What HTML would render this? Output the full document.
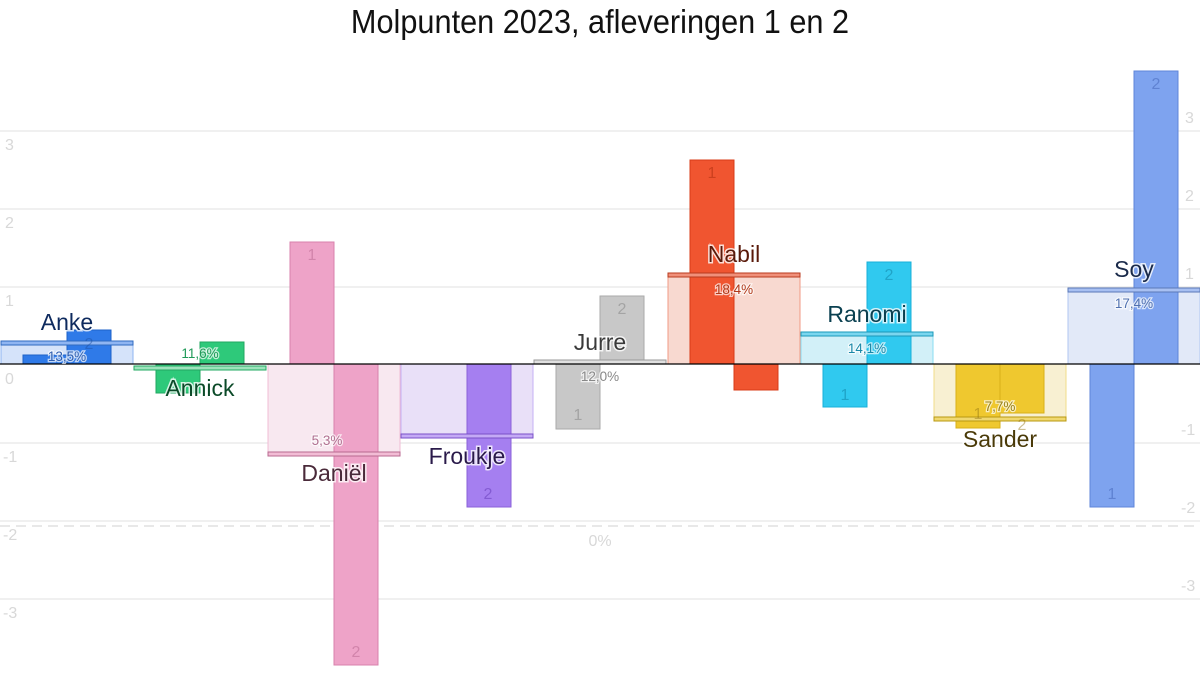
<!DOCTYPE html>
<html><head><meta charset="utf-8"><style>
body{margin:0;background:#fff}
svg{display:block}
text{font-family:"Liberation Sans",sans-serif}
.nm{font-size:23px;text-anchor:middle;stroke:#fff;stroke-width:3px;paint-order:stroke;stroke-opacity:.8}
.pc{font-size:13.5px;text-anchor:middle;stroke:#fff;stroke-width:2.5px;paint-order:stroke;stroke-opacity:.7}
.bn{font-size:16px;text-anchor:middle;fill-opacity:.45}
.ax{font-size:16px;fill:#d8d8d8}
</style></head><body>
<svg width="1200" height="700" viewBox="0 0 1200 700">
<text x="600" y="33" font-size="33" text-anchor="middle" fill="#111" transform="translate(600 0) scale(0.93 1) translate(-600 0)">Molpunten 2023, afleveringen 1 en 2</text>
<g stroke="#e2e2e2" stroke-width="1">
<line x1="0" x2="1200" y1="131" y2="131"/><line x1="0" x2="1200" y1="209" y2="209"/><line x1="0" x2="1200" y1="287" y2="287"/><line x1="0" x2="1200" y1="443" y2="443"/><line x1="0" x2="1200" y1="521" y2="521"/><line x1="0" x2="1200" y1="599" y2="599"/>
</g>
<line x1="0" x2="1200" y1="526" y2="526" stroke="#d0d0d0" stroke-dasharray="10,6"/>
<text x="600" y="546" class="ax" text-anchor="middle" font-size="15" fill="#ccc">0%</text>
<g class="ax" font-size="16">
<text x="5" y="150">3</text><text x="5" y="228">2</text><text x="5" y="306">1</text><text x="5" y="384">0</text><text x="3" y="462">-1</text><text x="3" y="540">-2</text><text x="3" y="618">-3</text>
<text x="1185" y="123">3</text><text x="1185" y="201">2</text><text x="1185" y="279">1</text><text x="1185" y="357">0</text><text x="1181" y="435">-1</text><text x="1181" y="513">-2</text><text x="1181" y="591">-3</text>
</g>
<!-- Anke -->
<rect x="1" y="345" width="132" height="19" fill="#d5e3fa" stroke="#8fb5f2"/>
<rect x="23" y="355" width="44" height="9" fill="#2f7ae8" stroke="#1d62c8"/>
<rect x="67" y="330" width="44" height="34" fill="#2f7ae8" stroke="#1d62c8"/>
<rect x="1" y="341" width="132" height="4" fill="#8fb5f2" stroke="#2f6ac0"/>
<!-- Annick -->
<rect x="156" y="364" width="44" height="29" fill="#2ec97a" stroke="#22a862"/>
<rect x="200" y="342" width="44" height="22" fill="#2ec97a" stroke="#22a862"/>
<rect x="134" y="366" width="132" height="4" fill="#9ee3bc" stroke="#22a862"/>
<!-- Daniel -->
<rect x="268" y="364" width="132" height="88" fill="#f8e8f0" stroke="#f0bcd5"/>
<rect x="290" y="242" width="44" height="122" fill="#eea3c8" stroke="#d882ac"/>
<rect x="334" y="364" width="44" height="301" fill="#eea3c8" stroke="#d882ac"/>
<rect x="268" y="452" width="132" height="4" fill="#f2bcd5" stroke="#b86a90"/>
<!-- Froukje -->
<rect x="401" y="364" width="132" height="70" fill="#e9e0f8" stroke="#c5b0f4"/>
<rect x="467" y="364" width="44" height="143" fill="#a57ff0" stroke="#8a62d8"/>
<rect x="401" y="434" width="132" height="4" fill="#c4aaf5" stroke="#7a50c8"/>
<!-- Jurre -->
<rect x="556" y="364" width="44" height="65" fill="#c8c8c8" stroke="#aaa"/>
<rect x="600" y="296" width="44" height="68" fill="#c8c8c8" stroke="#aaa"/>
<rect x="534" y="360" width="132" height="4" fill="#e0e0e0" stroke="#999"/>
<!-- Nabil -->
<rect x="668" y="277" width="132" height="87" fill="#f8d9d0" stroke="#f09a85"/>
<rect x="690" y="160" width="44" height="204" fill="#f05530" stroke="#d83c18"/>
<rect x="734" y="364" width="44" height="26" fill="#f05530" stroke="#d83c18"/>
<rect x="668" y="273" width="132" height="4" fill="#f0907a" stroke="#b83a1e"/>
<!-- Ranomi -->
<rect x="801" y="336" width="132" height="28" fill="#d2f0f8" stroke="#8adcf2"/>
<rect x="823" y="364" width="44" height="43" fill="#30c9ef" stroke="#18b0d8"/>
<rect x="867" y="262" width="44" height="102" fill="#30c9ef" stroke="#18b0d8"/>
<rect x="801" y="332" width="132" height="4" fill="#7ad6ef" stroke="#1a98b8"/>
<!-- Sander -->
<rect x="934" y="364" width="132" height="53" fill="#f8f0d2" stroke="#f0dc8a"/>
<rect x="956" y="364" width="44" height="64" fill="#efc82f" stroke="#d8b018"/>
<rect x="1000" y="364" width="44" height="49" fill="#efc82f" stroke="#d8b018"/>
<rect x="934" y="417" width="132" height="4" fill="#f0d870" stroke="#b89810"/>
<!-- Soy -->
<rect x="1068" y="292" width="132" height="72" fill="#e2e9f8" stroke="#b0c6f2"/>
<rect x="1090" y="364" width="44" height="143" fill="#7ea3ef" stroke="#5f86d8"/>
<rect x="1134" y="71" width="44" height="293" fill="#7ea3ef" stroke="#5f86d8"/>
<rect x="1068" y="288" width="132" height="4" fill="#a8c0f2" stroke="#5a78b8"/>
<line x1="0" x2="1200" y1="364" y2="364" stroke="#000" stroke-width="1.3"/>
<!-- bar numbers -->
<text class="bn" x="89" y="349" fill="#1d4ea0">2</text>
<text class="bn" x="312" y="260" fill="#b06088">1</text>
<text class="bn" x="356" y="657" fill="#b06088">2</text>
<text class="bn" x="488" y="499" fill="#5a30b0">2</text>
<text class="bn" x="578" y="420" fill="#777">1</text>
<text class="bn" x="622" y="314" fill="#777">2</text>
<text class="bn" x="712" y="178" fill="#a02808">1</text>
<text class="bn" x="845" y="400" fill="#0a7898">1</text>
<text class="bn" x="889" y="280" fill="#0a7898">2</text>
<text class="bn" x="978" y="419" fill="#907010">1</text>
<text class="bn" x="1022" y="430" fill="#907010">2</text>
<text class="bn" x="1112" y="499" fill="#3a5ab0">1</text>
<text class="bn" x="1156" y="89" fill="#3a5ab0">2</text>
<!-- percentages -->
<text class="pc" x="67" y="361" fill="#2f5fb0">13,5%</text>
<text class="pc" x="200" y="358" fill="#1f9a58">11,6%</text>
<text class="pc" x="327" y="445" fill="#b07090">5,3%</text>
<text class="pc" x="600" y="381" fill="#888">12,0%</text>
<text class="pc" x="734" y="294" fill="#b03818">18,4%</text>
<text class="pc" x="867" y="353" fill="#1a88a8">14,1%</text>
<text class="pc" x="1000" y="411" fill="#988018">7,7%</text>
<text class="pc" x="1134" y="308" fill="#5070b0">17,4%</text>
<!-- names -->
<text class="nm" x="67" y="330" fill="#0e2a5e">Anke</text>
<text class="nm" x="200" y="396" fill="#0b4a28">Annick</text>
<text class="nm" x="334" y="481" fill="#4a2a3a">Daniël</text>
<text class="nm" x="467" y="464" fill="#2a1a4a">Froukje</text>
<text class="nm" x="600" y="350" fill="#3a3a3a">Jurre</text>
<text class="nm" x="734" y="262" fill="#5a1a0a">Nabil</text>
<text class="nm" x="867" y="322" fill="#0a4050">Ranomi</text>
<text class="nm" x="1000" y="447" fill="#4a3a08">Sander</text>
<text class="nm" x="1134" y="277" fill="#1a2a4a">Soy</text>
</svg>
</body></html>
